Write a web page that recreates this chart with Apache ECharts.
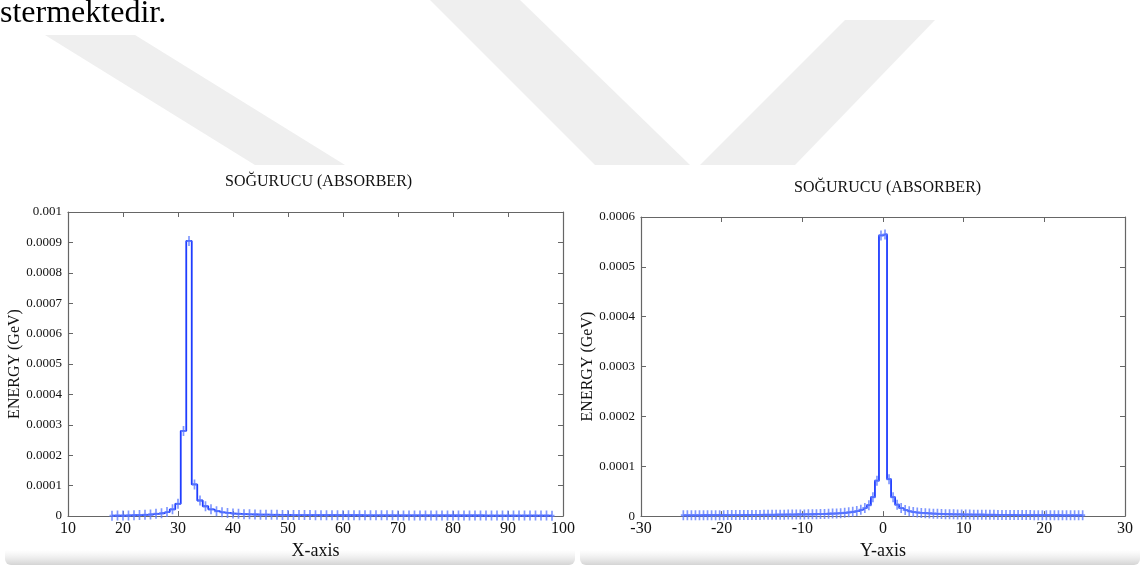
<!DOCTYPE html>
<html>
<head>
<meta charset="utf-8">
<script src="https://cdn.jsdelivr.net/npm/echarts@6/dist/echarts.min.js"></script>
<style>
html,body{margin:0;padding:0;background:#fff;}
#chart{width:1145px;height:565px;}
</style>
</head>
<body>
<div id="chart"></div>
<script>
// ---------- DATA ----------
const chartTitle = 'SOĞURUCU (ABSORBER)';
const yName = 'ENERGY (GeV)';
const leftXName = 'X-axis';
const rightXName = 'Y-axis';

// Left panel: bin centres along X (width 1)
const xBins = [18,19,20,21,22,23,24,25,26,27,28,29,30,31,32,33,34,35,36,37,38,39,40,
  41,42,43,44,45,46,47,48,49,50,51,52,53,54,55,56,57,58,59,60,
  61,62,63,64,65,66,67,68,69,70,71,72,73,74,75,76,77,78,79,80,
  81,82,83,84,85,86,87,88,89,90,91,92,93,94,95,96,97,98];
const xEnergy = [1.0e-6,1.5e-6,1.5e-6,2.0e-6,2.5e-6,3.0e-6,4.0e-6,5.0e-6,7.0e-6,9.0e-6,13e-6,22e-6,40e-6,
  280e-6,905e-6,104e-6,51e-6,32e-6,22e-6,16e-6,12e-6,10e-6,8.0e-6,
  7.0e-6,6.0e-6,5.5e-6,5.0e-6,4.5e-6,4.2e-6,4.0e-6,3.8e-6,3.5e-6,3.3e-6,3.2e-6,3.1e-6,3.0e-6,2.9e-6,2.8e-6,2.8e-6,2.7e-6,2.6e-6,2.6e-6,2.5e-6,
  2.5e-6,2.4e-6,2.4e-6,2.3e-6,2.3e-6,2.2e-6,2.2e-6,2.1e-6,2.1e-6,2.0e-6,2.0e-6,2.0e-6,1.9e-6,1.9e-6,1.9e-6,1.8e-6,1.8e-6,1.8e-6,1.7e-6,1.7e-6,
  1.7e-6,1.6e-6,1.6e-6,1.6e-6,1.6e-6,1.5e-6,1.5e-6,1.5e-6,1.5e-6,1.5e-6,1.4e-6,1.4e-6,1.4e-6,1.4e-6,1.3e-6,1.3e-6,1.3e-6,1.2e-6];

// Right panel: bin centres along Y (width 0.5)
const yBins = [-24.75,-24.25,-23.75,-23.25,-22.75,-22.25,-21.75,-21.25,-20.75,-20.25,
  -19.75,-19.25,-18.75,-18.25,-17.75,-17.25,-16.75,-16.25,-15.75,-15.25,
  -14.75,-14.25,-13.75,-13.25,-12.75,-12.25,-11.75,-11.25,-10.75,-10.25,
  -9.75,-9.25,-8.75,-8.25,-7.75,-7.25,-6.75,-6.25,-5.75,-5.25,
  -4.75,-4.25,-3.75,-3.25,-2.75,-2.25,-1.75,-1.25,-0.75,-0.25,
  0.25,0.75,1.25,1.75,2.25,2.75,3.25,3.75,4.25,4.75,
  5.25,5.75,6.25,6.75,7.25,7.75,8.25,8.75,9.25,9.75,
  10.25,10.75,11.25,11.75,12.25,12.75,13.25,13.75,14.25,14.75,
  15.25,15.75,16.25,16.75,17.25,17.75,18.25,18.75,19.25,19.75,
  20.25,20.75,21.25,21.75,22.25,22.75,23.25,23.75,24.25,24.75];
const yEnergy = [1.5e-6,1.5e-6,1.5e-6,1.6e-6,1.6e-6,1.7e-6,1.7e-6,1.8e-6,1.8e-6,1.9e-6,
  1.9e-6,2.0e-6,2.0e-6,2.1e-6,2.1e-6,2.2e-6,2.2e-6,2.3e-6,2.4e-6,2.4e-6,
  2.5e-6,2.5e-6,2.6e-6,2.7e-6,2.8e-6,2.9e-6,3.0e-6,3.1e-6,3.2e-6,3.3e-6,
  3.4e-6,3.5e-6,3.7e-6,3.9e-6,4.1e-6,4.4e-6,4.7e-6,5.0e-6,5.4e-6,5.9e-6,
  6.5e-6,7.5e-6,8.5e-6,10e-6,12.5e-6,16e-6,22e-6,38e-6,71e-6,563e-6,
  565e-6,74e-6,38e-6,23e-6,16e-6,12e-6,9.5e-6,8.0e-6,7.0e-6,6.3e-6,
  5.8e-6,5.3e-6,4.9e-6,4.5e-6,4.2e-6,3.9e-6,3.7e-6,3.5e-6,3.3e-6,3.2e-6,
  3.1e-6,3.0e-6,2.9e-6,2.8e-6,2.7e-6,2.6e-6,2.5e-6,2.5e-6,2.4e-6,2.3e-6,
  2.3e-6,2.2e-6,2.2e-6,2.1e-6,2.1e-6,2.0e-6,2.0e-6,1.9e-6,1.9e-6,1.8e-6,
  1.8e-6,1.8e-6,1.7e-6,1.7e-6,1.6e-6,1.6e-6,1.6e-6,1.5e-6,1.5e-6,1.5e-6];

// ---------- STYLE ----------
const SERIF = '"Liberation Serif","Times New Roman",serif';
const FRAME = '#666';
const LINE = '#1f3dff';
const MARK = 'rgba(95,125,255,0.8)';
const PLUS = 'path://M3,0L6,0L6,4L9,4L9,6L6,6L6,10L3,10L3,6L0,6L0,4L3,4Z';

const fmtY = v => String(+(+v).toFixed(4));

function mainX(grid, min, max, name) {
  return {
    type: 'value', gridIndex: grid, min: min, max: max, interval: 10, position: 'bottom',
    name: name, nameLocation: 'middle', nameGap: 21,
    nameTextStyle: {fontFamily: SERIF, fontSize: 18, color: '#111'},
    axisLine: {show: true, onZero: false, lineStyle: {color: FRAME, width: 1.2}},
    axisTick: {show: true, inside: true, length: 5, lineStyle: {color: FRAME}},
    axisLabel: {fontFamily: SERIF, fontSize: 16, color: '#111', margin: 5},
    splitLine: {show: false}
  };
}
function mirrorX(grid, min, max) {
  return {
    type: 'value', gridIndex: grid, min: min, max: max, interval: 10, position: 'top',
    axisLine: {show: true, onZero: false, lineStyle: {color: FRAME, width: 1.2}},
    axisTick: {show: true, inside: true, length: 5, lineStyle: {color: FRAME}},
    axisLabel: {show: false}, splitLine: {show: false}
  };
}
function mainY(grid, max, gap) {
  return {
    type: 'value', gridIndex: grid, min: 0, max: max, interval: 0.0001, position: 'left',
    name: yName, nameLocation: 'middle', nameGap: gap, nameRotate: 90,
    nameTextStyle: {fontFamily: SERIF, fontSize: 16, color: '#111'},
    axisLine: {show: true, onZero: false, lineStyle: {color: FRAME, width: 1.2}},
    axisTick: {show: true, inside: true, length: 5, lineStyle: {color: FRAME}},
    axisLabel: {fontFamily: SERIF, fontSize: 13, color: '#111', margin: 6, formatter: fmtY},
    splitLine: {show: false}
  };
}
function mirrorY(grid, max) {
  return {
    type: 'value', gridIndex: grid, min: 0, max: max, interval: 0.0001, position: 'right',
    axisLine: {show: true, onZero: false, lineStyle: {color: FRAME, width: 1.2}},
    axisTick: {show: true, inside: true, length: 5, lineStyle: {color: FRAME}},
    axisLabel: {show: false}, splitLine: {show: false}
  };
}
function histSeries(xi, yi, bins, vals) {
  return {
    type: 'line', xAxisIndex: xi, yAxisIndex: yi, step: 'middle',
    data: bins.map((b, i) => [b, vals[i]]),
    showAllSymbol: true, symbol: PLUS, symbolSize: [5, 10], symbolKeepAspect: false,
    itemStyle: {color: MARK},
    lineStyle: {color: LINE, width: 1.8},
    emphasis: {disabled: true}, animation: false, z: 3
  };
}

const WM = '#efefef';
const option = {
  backgroundColor: '#ffffff',
  animation: false,
  title: [
    {text: chartTitle, left: 220, top: 169, textStyle: {fontFamily: SERIF, fontSize: 16, fontWeight: 'normal', color: '#111'}},
    {text: chartTitle, left: 789, top: 175, textStyle: {fontFamily: SERIF, fontSize: 16, fontWeight: 'normal', color: '#111'}}
  ],
  graphic: [
    {type: 'polygon', z: -10, shape: {points: [[45,35],[135,35],[345,165],[255,165]]}, style: {fill: WM}},
    {type: 'polygon', z: -10, shape: {points: [[430,0],[520,0],[690,165],[595,165]]}, style: {fill: WM}},
    {type: 'polygon', z: -10, shape: {points: [[700,165],[795,165],[935,20],[845,20]]}, style: {fill: WM}},
    {type: 'rect', z: -9, shape: {x: 5, y: 550, width: 570, height: 15, r: [0,0,6,6]},
      style: {fill: {type: 'linear', x: 0, y: 0, x2: 0, y2: 1, colorStops: [{offset: 0, color: 'rgba(230,230,230,0)'}, {offset: 1, color: '#d4d4d4'}]}}},
    {type: 'rect', z: -9, shape: {x: 580, y: 550, width: 560, height: 15, r: [0,0,6,6]},
      style: {fill: {type: 'linear', x: 0, y: 0, x2: 0, y2: 1, colorStops: [{offset: 0, color: 'rgba(230,230,230,0)'}, {offset: 1, color: '#d4d4d4'}]}}},
    {type: 'text', z: 10, style: {x: 0, y: 14, text: 'stermektedir.', fontFamily: SERIF, fontSize: 32, fill: '#000', textVerticalAlign: 'middle'}}
  ],
  grid: [
    {left: 68, top: 212, width: 495, height: 304, show: false},
    {left: 641, top: 217, width: 484, height: 300, show: false}
  ],
  xAxis: [mainX(0, 10, 100, leftXName), mirrorX(0, 10, 100), mainX(1, -30, 30, rightXName), mirrorX(1, -30, 30)],
  yAxis: [mainY(0, 0.001, 42), mirrorY(0, 0.001), mainY(1, 0.0006, 42), mirrorY(1, 0.0006)],
  series: [histSeries(0, 0, xBins, xEnergy), histSeries(2, 2, yBins, yEnergy)]
};

const chart = echarts.init(document.getElementById('chart'), null, {renderer: 'canvas'});
chart.setOption(option);
</script>
</body>
</html>
